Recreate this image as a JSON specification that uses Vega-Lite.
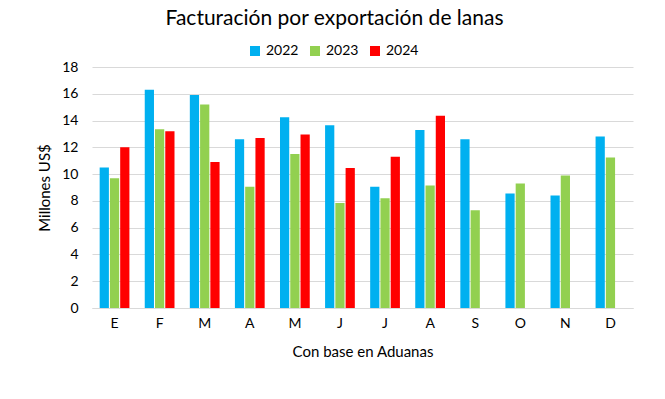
{
  "$schema": "https://vega.github.io/schema/vega-lite/v6.json",
  "width": 541,
  "height": 241,
  "autosize": {"type": "none"},
  "padding": {"left": 92, "top": 67, "right": 32, "bottom": 91},
  "background": "white",
  "config": {
    "font": "Lato",
    "view": {"stroke": null},
    "axis": {"labelFont": "Lato", "titleFont": "Lato", "labelColor": "#000000", "titleColor": "#000000", "labelFontSize": 14, "titleFontSize": 15, "titleFontWeight": "normal"}
  },
  "title": {"text": "Facturación por exportación de lanas", "fontSize": 21, "fontWeight": "normal", "font": "Lato", "color": "#000000", "anchor": "middle", "dx": -28, "offset": 15},
  "data": {"values": [
    {"mes": "Ene", "year": "2022", "value": 10.5},
    {"mes": "Ene", "year": "2023", "value": 9.7},
    {"mes": "Ene", "year": "2024", "value": 12.0},
    {"mes": "Feb", "year": "2022", "value": 16.3},
    {"mes": "Feb", "year": "2023", "value": 13.35},
    {"mes": "Feb", "year": "2024", "value": 13.2},
    {"mes": "Mar", "year": "2022", "value": 15.9},
    {"mes": "Mar", "year": "2023", "value": 15.2},
    {"mes": "Mar", "year": "2024", "value": 10.9},
    {"mes": "Abr", "year": "2022", "value": 12.6},
    {"mes": "Abr", "year": "2023", "value": 9.05},
    {"mes": "Abr", "year": "2024", "value": 12.7},
    {"mes": "May", "year": "2022", "value": 14.25},
    {"mes": "May", "year": "2023", "value": 11.5},
    {"mes": "May", "year": "2024", "value": 12.95},
    {"mes": "Jun", "year": "2022", "value": 13.65},
    {"mes": "Jun", "year": "2023", "value": 7.85},
    {"mes": "Jun", "year": "2024", "value": 10.45},
    {"mes": "Jul", "year": "2022", "value": 9.05},
    {"mes": "Jul", "year": "2023", "value": 8.2},
    {"mes": "Jul", "year": "2024", "value": 11.3},
    {"mes": "Ago", "year": "2022", "value": 13.3},
    {"mes": "Ago", "year": "2023", "value": 9.15},
    {"mes": "Ago", "year": "2024", "value": 14.35},
    {"mes": "Sep", "year": "2022", "value": 12.6},
    {"mes": "Sep", "year": "2023", "value": 7.3},
    {"mes": "Oct", "year": "2022", "value": 8.55},
    {"mes": "Oct", "year": "2023", "value": 9.3},
    {"mes": "Nov", "year": "2022", "value": 8.4},
    {"mes": "Nov", "year": "2023", "value": 9.9},
    {"mes": "Dic", "year": "2022", "value": 12.8},
    {"mes": "Dic", "year": "2023", "value": 11.25}
  ]},
  "mark": {"type": "bar"},
  "encoding": {
    "x": {
      "field": "mes", "type": "nominal",
      "sort": ["Ene","Feb","Mar","Abr","May","Jun","Jul","Ago","Sep","Oct","Nov","Dic"],
      "scale": {"paddingInner": 0.34, "paddingOuter": 0.17},
      "axis": {"title": "Con base en Aduanas", "labelAngle": 0, "labelExpr": "substring(datum.label,0,1)", "ticks": false, "domainColor": "#d9d9d9", "domainWidth": 1, "labelPadding": 8, "titlePadding": 14}
    },
    "xOffset": {
      "field": "year", "type": "nominal",
      "scale": {"domain": ["2022","2023","2024"], "paddingInner": 0.1}
    },
    "y": {
      "field": "value", "type": "quantitative",
      "scale": {"domain": [0, 18], "nice": false},
      "axis": {"title": "Millones US$", "values": [0,2,4,6,8,10,12,14,16,18], "domain": false, "ticks": false, "gridColor": "#d9d9d9", "labelPadding": 14, "titlePadding": 9}
    },
    "color": {
      "field": "year", "type": "nominal",
      "scale": {"domain": ["2022","2023","2024"], "range": ["#00B0F0","#92D050","#FF0000"]},
      "legend": {"title": null, "orient": "none", "legendX": 156, "legendY": -23, "direction": "horizontal", "symbolType": "square", "symbolSize": 100, "symbolStrokeWidth": 0, "labelFontSize": 14, "labelFont": "Lato", "labelColor": "#000000", "columnPadding": 9, "labelOffset": 4}
    }
  }
}
